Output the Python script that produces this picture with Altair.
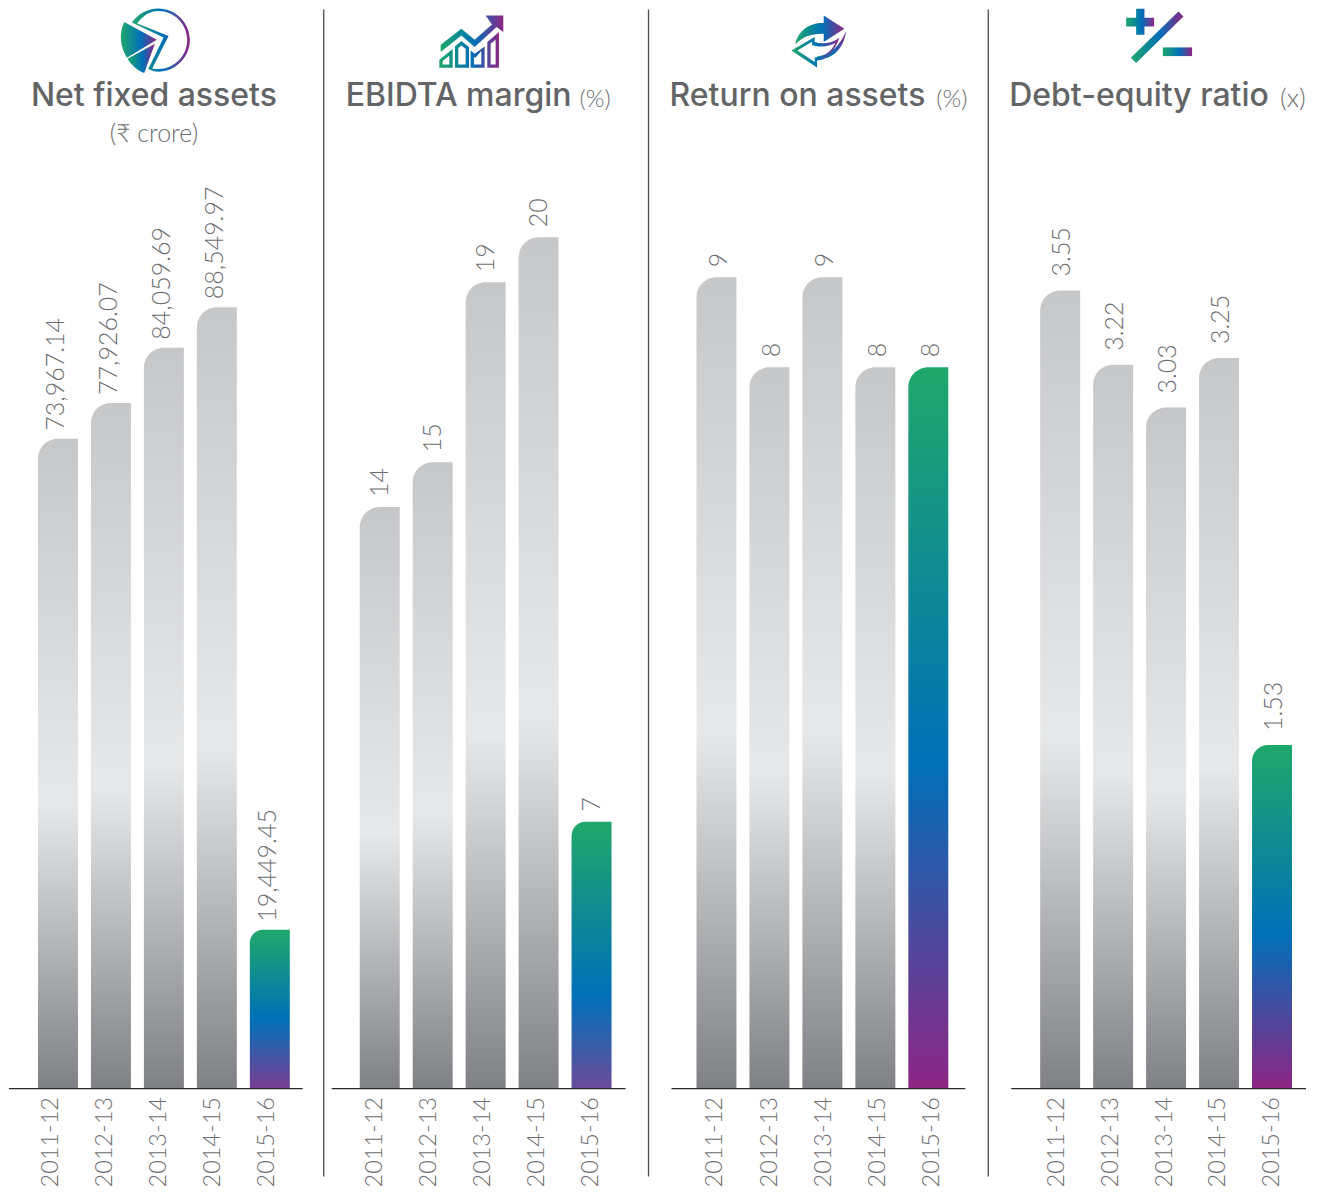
import re
import altair as alt
import pandas as pd

years = ["2011-12", "2012-13", "2013-14", "2014-15", "2015-16"]
net_fixed_assets = [73967.14, 77926.07, 84059.69, 88549.97, 19449.45]
net_fixed_labels = ["73,967.14", "77,926.07", "84,059.69", "88,549.97", "19,449.45"]
ebidta_margin = [14, 15, 19, 20, 7]
return_on_assets = [9, 8, 9, 8, 8]
debt_equity = [3.55, 3.22, 3.03, 3.25, 1.53]
debt_equity_labels = ["3.55", "3.22", "3.03", "3.25", "1.53"]

FONT = "Lato"
TITLE_FONT = "Inter"
GREY_TXT = "#6d6e71"
TITLE_TXT = "#636466"
PLOT_H = 1081

GREY_STOPS = [("#c6c7c9", 0), ("#e7e8e9", 0.56), ("#dedfe0", 0.6), ("#808184", 1)]
BAR_GREY = alt.Gradient(gradient="linear", x1=0, x2=0, y1=0, y2=1,
                        stops=[alt.GradientStop(color=c, offset=o) for c, o in GREY_STOPS])


def hl(blue_at, bottom):
    return alt.Gradient(gradient="linear", x1=0, x2=0, y1=0, y2=1, stops=[
        alt.GradientStop(color="#1fa86a", offset=0),
        alt.GradientStop(color="#0070b8", offset=blue_at),
        alt.GradientStop(color=bottom, offset=1),
    ])


ICON_H = alt.Gradient(gradient="linear", x1=0, x2=1, y1=0, y2=0, stops=[
    alt.GradientStop(color="#1fa86a", offset=0),
    alt.GradientStop(color="#0070b8", offset=0.55),
    alt.GradientStop(color="#8e2585", offset=1),
])


def shape(path, dx):
    """Decorative icon piece; the path is drawn in 3x pixels, shifted into the panel."""
    moved = re.sub(r"(-?\d+),(-?\d+)", lambda m: f"{int(m[1]) + dx},{int(m[2]) - 24}", path)
    return alt.Chart(alt.Data(values=[{}])).mark_point(
        shape=moved, size=4 / 9, opacity=1, filled=True, fill=ICON_H
    ).encode(x=alt.value(0), y=alt.value(0))


def label(txt, x, y, size, align="left", weight=500, font=TITLE_FONT, color=TITLE_TXT):
    return alt.Chart(alt.Data(values=[{}])).mark_text(
        text=txt, font=font, fontSize=size, fontWeight=weight, color=color,
        align=align, baseline="alphabetic",
    ).encode(x=alt.value(x), y=alt.value(y))


def small(txt, x, y, size=24, align="left"):
    return label(txt, x, y, size, align, 300, FONT, GREY_TXT)


def panel(values, texts, domain, width, padding_outer, align, gradient, radius, label_offset,
          base_from, base_to, value_dx, value_dy, extras, divider=True):
    df = pd.DataFrame({"year": years, "value": values, "text": texts})
    x = alt.X("year:N", title=None, sort=years,
              scale=alt.Scale(paddingInner=13 / 53, paddingOuter=padding_outer, align=align),
              axis=alt.Axis(domain=False, ticks=False, grid=False,
                            labelAngle=270, labelAlign="right", labelBaseline="middle",
                            labelFont=FONT, labelFontSize=23.5, labelFontWeight=300, labelColor=GREY_TXT,
                            labelPadding=8, labelOverlap=False, labelOffset=alt.expr(label_offset)))
    y = alt.Y("value:Q", axis=None, scale=alt.Scale(domain=domain, zero=False, nice=False, clamp=True))
    y2 = alt.Y2(datum=domain[0])
    greys = alt.Chart(df[df.year != years[-1]]).mark_bar(
        color=BAR_GREY, cornerRadiusTopLeft=22, width=40
    ).encode(x=x, y=y, y2=y2)
    last = alt.Chart(df[df.year == years[-1]]).mark_bar(
        color=gradient, cornerRadiusTopLeft=radius, width=40
    ).encode(x=x, y=y, y2=y2)
    text = alt.Chart(df).mark_text(
        angle=270, align="left", baseline="middle", dx=value_dx, dy=value_dy,
        font=FONT, fontSize=25, fontWeight=300, color=GREY_TXT
    ).encode(x=x, y=y, text="text:N")
    baseline = alt.Chart(alt.Data(values=[{}])).mark_rule(color="#2b2a29", strokeWidth=1.3).encode(
        x=alt.value(base_from), x2=alt.value(base_to), y=alt.value(PLOT_H)
    )
    layers = [greys, last, text, baseline, *extras]
    if divider:
        layers.append(alt.Chart(alt.Data(values=[{}])).mark_rule(color="#4d4d4f", strokeWidth=1.3).encode(
            x=alt.value(1), y=alt.value(1), y2=alt.value(1169)
        ))
    return alt.layer(*layers).properties(width=width, height=PLOT_H)


# icon pieces
pie_ring = ("M393,66 L488,111 L442,206 C452,211 462,214 472,214 C524,214 567,171 567,119 "
            "C567,67 524,24 472,24 C440,24 411,40 393,66 Z "
            "M409,69 C426,46 448,32 472,32 C520,32 559,71 559,119 C559,167 520,206 472,206 "
            "C466,206 460,205 454,204 L503,107 Z")
pie_a = "M370,65 L468,118 L378,172 C358,140 353,100 370,65 Z"
pie_b = "M380,175 L462,130 L430,218 C410,210 392,195 380,175 Z"

trend_fill = ("M330,133 L392,85 L432,118 L484,72 L465,45 L518,45 L518,95 L498,80 L432,140 L392,105 L330,155 Z")
trend_bars = ("M326,202 L326,178 L366,146 L366,202 Z M336,192 L356,192 L356,166 L336,182 Z "
              "M373,202 L373,138 L392,122 L415,140 L415,202 Z M383,192 L405,192 L405,145 L392,135 L383,143 Z "
              "M420,202 L420,150 L432,160 L462,138 L462,202 Z M430,192 L452,192 L452,152 L434,172 L430,170 Z "
              "M470,202 L470,125 L505,95 L505,202 Z M480,192 L495,192 L495,118 L480,130 Z")

arrow_top = "M405,132 C412,90 450,66 490,68 L490,45 L552,85 L490,125 L490,100 C460,98 425,108 405,132 Z"
arrow_swoosh = "M557,92 C552,140 520,178 470,178 L470,168 C510,165 540,135 557,92 Z"
arrow_left = ("M393,150 L463,110 L463,125 C487,133 515,128 537,112 C522,155 498,180 470,180 L470,201 Z "
              "M411,150 L463,185 L463,171 C492,171 513,153 525,128 C505,139 480,142 455,134 L455,124 Z")

plus = "M408,52 L438,52 L438,25 L463,25 L463,52 L492,52 L492,78 L463,78 L463,103 L438,103 L438,78 L408,78 Z"
slash = "M565,33 L580,48 L438,188 L422,172 Z"
minus = "M518,141 L606,141 L606,167 L518,167 Z"

p1 = panel(net_fixed_assets, net_fixed_labels, [1819, 121717], 314, 0.585, 0.468, hl(0.56, "#7a3d93"), 13,
           "-7+4*datum.index", 0, 294, 8, -2, [
               shape(pie_ring, -24), shape(pie_a, -24), shape(pie_b, -24),
               label("Net fixed assets", 145, 98, 32, "center"),
               small("(₹ crore)", 145, 134, 25, "center"),
           ], divider=False)
p2 = panel(ebidta_margin, ebidta_margin, [1.0667, 25.09], 325, 0.689, 0.507, hl(0.65, "#6a4c9b"), 14,
           "-5+4*datum.index", 9, 303, 10, 0, [
               shape(trend_fill, 24), shape(trend_bars, 24),
               label("EBIDTA margin", 23, 98, 32),
               small("(%)", 257, 99),
           ])
p3 = panel(return_on_assets, return_on_assets, [-0.022, 11.99], 340, 0.830, 0.557, hl(0.55, "#8e2585"), 22,
           "-1+5*datum.index", 24, 318, 10, 3, [
               shape(arrow_top, 39), shape(arrow_swoosh, 39), shape(arrow_left, 39),
               label("Return on assets", 22, 98, 32),
               small("(%)", 289, 99),
           ])
p4 = panel(debt_equity, debt_equity_labels, [0.003, 4.803], 329, 0.726, 0.688, hl(0.55, "#8e2585"), 16,
           "-3+3*datum.index", 24, 319, 14, 2, [
               shape(plus, 9), shape(slash, 9), shape(minus, 9),
               label("Debt-equity ratio", 22, 98, 32),
               small("(x)", 293, 99, 26),
           ])

chart = alt.hconcat(p1, p2, p3, p4, spacing=0).properties(
    padding=0, background="white"
).configure_view(strokeWidth=0)

chart.save("out.html", embed_options={"renderer": "svg", "actions": False})
